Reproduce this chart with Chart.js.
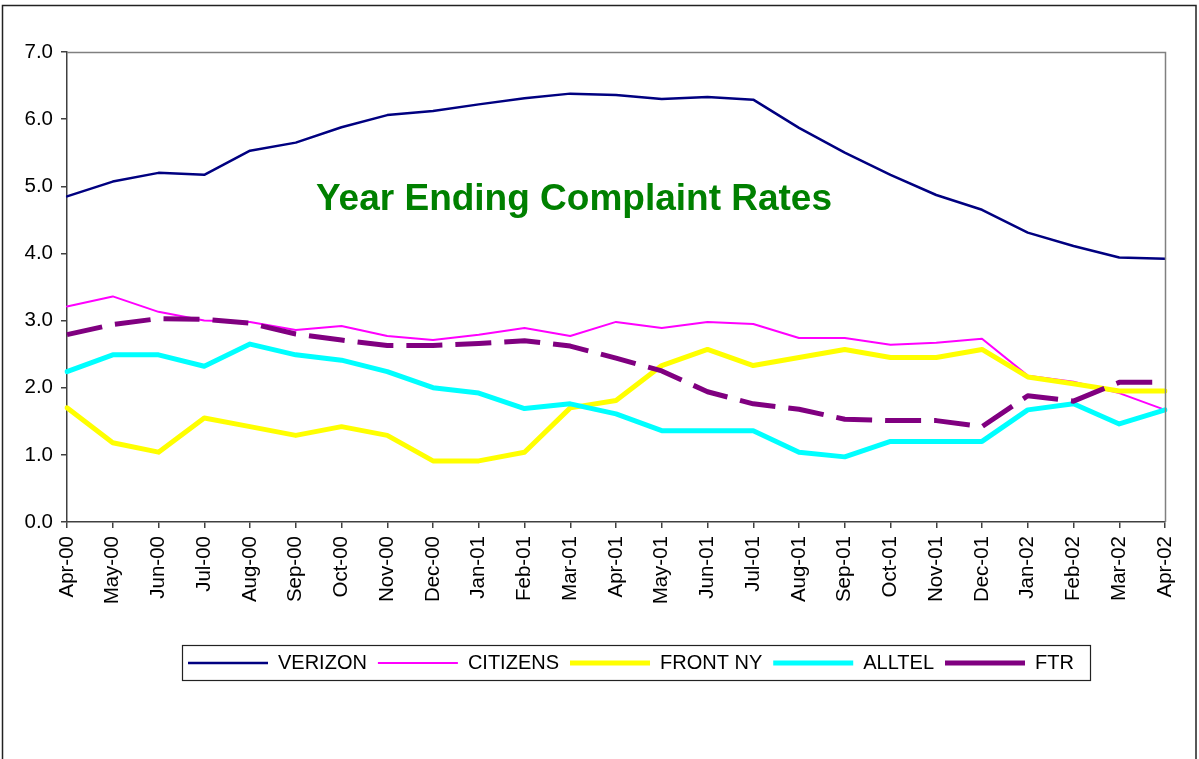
<!DOCTYPE html>
<html>
<head>
<meta charset="utf-8">
<script src="https://cdn.jsdelivr.net/npm/chart.js@4.4.1/dist/chart.umd.min.js"></script>
<style>
  html, body { margin: 0; padding: 0; background: #ffffff; }
  #wrap { width: 1199px; height: 759px; position: relative; }
</style>
</head>
<body>
<div id="wrap"><canvas id="c" width="1199" height="759"></canvas></div>
<script>
const categories = ["Apr-00","May-00","Jun-00","Jul-00","Aug-00","Sep-00","Oct-00","Nov-00","Dec-00","Jan-01","Feb-01","Mar-01","Apr-01","May-01","Jun-01","Jul-01","Aug-01","Sep-01","Oct-01","Nov-01","Dec-01","Jan-02","Feb-02","Mar-02","Apr-02"];
const verizon  = [4.85, 5.07, 5.20, 5.17, 5.53, 5.65, 5.88, 6.06, 6.12, 6.22, 6.31, 6.38, 6.36, 6.30, 6.33, 6.29, 5.87, 5.50, 5.17, 4.87, 4.65, 4.31, 4.11, 3.94, 3.92];
const citizens = [3.21, 3.36, 3.13, 3.00, 2.98, 2.86, 2.92, 2.77, 2.71, 2.79, 2.89, 2.77, 2.98, 2.89, 2.98, 2.95, 2.74, 2.74, 2.64, 2.67, 2.73, 2.18, 2.09, 1.92, 1.67];
const frontNY  = [1.70, 1.18, 1.04, 1.55, 1.42, 1.29, 1.42, 1.29, 0.91, 0.91, 1.04, 1.70, 1.81, 2.33, 2.57, 2.33, 2.45, 2.57, 2.45, 2.45, 2.57, 2.16, 2.06, 1.95, 1.95];
const alltel   = [2.24, 2.49, 2.49, 2.32, 2.65, 2.49, 2.41, 2.24, 2.00, 1.92, 1.69, 1.76, 1.61, 1.36, 1.36, 1.36, 1.04, 0.97, 1.20, 1.20, 1.20, 1.67, 1.76, 1.46, 1.67];
const ftr      = [2.79, 2.94, 3.03, 3.02, 2.96, 2.80, 2.71, 2.63, 2.63, 2.66, 2.70, 2.62, 2.44, 2.25, 1.94, 1.76, 1.68, 1.53, 1.51, 1.51, 1.42, 1.88, 1.80, 2.08, 2.08];
const yTickValues = [0, 1, 2, 3, 4, 5, 6, 7];
const chartTitle = "Year Ending Complaint Rates";

const FONT = "'Liberation Sans', Arial, Helvetica, sans-serif";

const decorPlugin = {
  id: 'decor',
  afterLayout(chart) {
    const lg = chart.legend;
    if (lg) {
      const w = lg.right - lg.left;
      const h = lg.bottom - lg.top;
      lg.left = 177; lg.right = lg.left + w;
      lg.top = 642; lg.bottom = lg.top + h;
    }
  },
  beforeDraw(chart) {
    const ctx = chart.ctx;
    ctx.save();
    ctx.strokeStyle = '#222222';
    ctx.lineWidth = 1.5;
    ctx.strokeRect(2.5, 5.5, 1193.5, 800);
    ctx.restore();
  },
  afterDatasetsDraw(chart) {
    const ctx = chart.ctx;
    const a = chart.chartArea;
    ctx.save();
    ctx.strokeStyle = '#808080';
    ctx.lineWidth = 1.5;
    ctx.beginPath();
    ctx.moveTo(a.left, a.top + 0.5);
    ctx.lineTo(a.right + 0.5, a.top + 0.5);
    ctx.lineTo(a.right + 0.5, a.bottom);
    ctx.stroke();
    ctx.fillStyle = '#008000';
    ctx.font = "bold 37px " + FONT;
    ctx.textAlign = 'center';
    ctx.textBaseline = 'alphabetic';
    ctx.fillText(chartTitle, 574, 210);
    ctx.restore();
  },
  afterDraw(chart) {
    const ctx = chart.ctx;
    ctx.save();
    ctx.strokeStyle = '#222222';
    ctx.lineWidth = 1.2;
    ctx.strokeRect(182.5, 645.5, 908, 35);
    ctx.restore();
  }
};

const mk = (label, data, color, width, order, dash) => ({
  label, data,
  borderColor: color,
  backgroundColor: color,
  borderWidth: width,
  borderDash: dash || [],
  borderCapStyle: dash ? 'butt' : 'round',
  borderJoinStyle: 'round',
  pointRadius: 0,
  pointHoverRadius: 0,
  pointStyle: 'line',
  tension: 0,
  fill: false,
  order
});

new Chart(document.getElementById('c'), {
  type: 'line',
  data: {
    labels: categories,
    datasets: [
      mk('VERIZON', verizon, '#000080', 2.5, 5),
      mk('CITIZENS', citizens, '#FF00FF', 2, 4),
      mk('FRONT NY', frontNY, '#FFFF00', 5, 3),
      mk('ALLTEL', alltel, '#00FFFF', 5, 2),
      mk('FTR', ftr, '#800080', 5, 1, [36, 13])
    ]
  },
  options: {
    responsive: false,
    animation: false,
    devicePixelRatio: 1,
    layout: { padding: { left: 1, right: 34, top: 52, bottom: 106 } },
    plugins: {
      title: { display: false },
      tooltip: { enabled: false },
      legend: {
        display: true,
        position: 'bottom',
        align: 'start',
        labels: {
          usePointStyle: true,
          pointStyleWidth: 80,
          boxWidth: 80,
          padding: 11,
          color: '#000000',
          font: { family: FONT, size: 20, lineHeight: 1 },
          sort: (a, b) => a.datasetIndex - b.datasetIndex
        }
      }
    },
    scales: {
      x: {
        type: 'category',
        offset: false,
        grid: { display: true, drawOnChartArea: false, drawTicks: true, tickLength: 6, color: '#404040', lineWidth: 1.5 },
        border: { display: true, color: '#404040', width: 1.5 },
        ticks: { autoSkip: false, maxRotation: 90, minRotation: 90, padding: 8, color: '#000000', font: { family: FONT, size: 20.5 } },
        afterFit: s => { s.height = 90; }
      },
      y: {
        min: 0, max: 7,
        afterBuildTicks: s => { s.ticks = yTickValues.map(v => ({ value: v })); },
        grid: { display: true, drawOnChartArea: false, drawTicks: true, tickLength: 6, color: '#404040', lineWidth: 1.5 },
        border: { display: true, color: '#404040', width: 1.5 },
        ticks: { padding: 8, color: '#000000', font: { family: FONT, size: 20.5 }, callback: v => Number(v).toFixed(1) },
        afterFit: s => { s.width = 66; }
      }
    }
  },
  plugins: [decorPlugin]
});
</script>
</body>
</html>
